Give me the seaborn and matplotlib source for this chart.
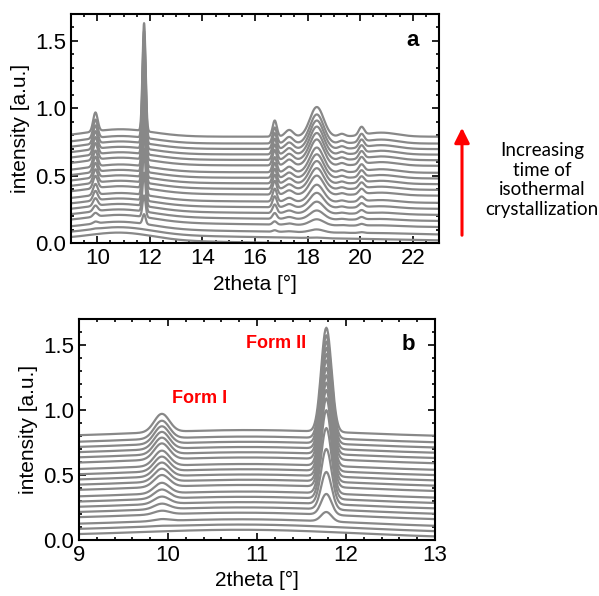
import numpy as np
import pandas as pd
import seaborn as sns
import matplotlib.pyplot as plt
from matplotlib.patches import FancyArrowPatch
from matplotlib.ticker import MultipleLocator

# waterfall of XRD patterns during isothermal crystallization
# values

# vertical offset of each pattern (bottom = earliest)
offsets = [0.03, 0.07, 0.11, 0.16, 0.20, 0.24, 0.28, 0.32, 0.37, 0.41,
           0.45, 0.49, 0.53, 0.58, 0.62, 0.66, 0.70, 0.74, 0.79]

# fraction of final peak height, fast growing peaks (form II)
growth_fast = [0.0, 0.0, 0.09, 0.20, 0.36, 0.53, 0.68, 0.80, 0.85, 0.88,
               0.90, 0.92, 0.94, 0.95, 0.96, 0.97, 0.98, 0.99, 1.0]
# slow growing peaks
growth_slow = [0.0, 0.02, 0.10, 0.20, 0.30, 0.40, 0.50, 0.58, 0.65, 0.71,
               0.76, 0.80, 0.84, 0.88, 0.91, 0.94, 0.96, 0.98, 1.0]

# peaks: position, width (sigma), final height, which growth
peak_pos = [9.93, 11.78, 16.75, 17.30, 18.35, 19.30, 20.05, 20.80]
peak_sig = [0.085, 0.058, 0.08, 0.15, 0.26, 0.12, 0.10, 0.60]
peak_hgt = [0.14, 0.80, 0.12, 0.05, 0.22, 0.02, 0.06, 0.03]
peak_kind = ["slow", "fast", "fast", "slow", "slow", "slow", "slow", "slow"]

# amorphous halo
halo_pos, halo_sig, halo_hgt = 10.9, 1.2, 0.055
tilt_end = 0.05

x = np.linspace(9, 23, 1401)
rows = []
for i, off in enumerate(offsets):
    y = off + halo_hgt * np.exp(-(x - halo_pos) ** 2 / (2 * halo_sig ** 2))
    y = y - tilt_end * (1 - growth_slow[i]) * (x - 9) / 14
    for p, s, h, k in zip(peak_pos, peak_sig, peak_hgt, peak_kind):
        g = growth_fast[i] if k == "fast" else growth_slow[i]
        y = y + g * h * np.exp(-(x - p) ** 2 / (2 * s ** 2))
    rows.append(pd.DataFrame({"theta": x, "intensity": y, "curve": i}))
df = pd.concat(rows)

sns.set_style("ticks")
plt.rcParams['font.family'] = ['Liberation Sans', 'DejaVu Sans']
plt.rcParams['text.color'] = 'black'
plt.rcParams['axes.labelcolor'] = 'black'
plt.rcParams['xtick.color'] = 'black'
plt.rcParams['ytick.color'] = 'black'
plt.rcParams['axes.edgecolor'] = 'black'

fig = plt.figure(figsize=(5.99, 5.96), dpi=100)
ax1 = fig.add_axes([0.1185, 0.592, 0.6145, 0.3845])
ax2 = fig.add_axes([0.132, 0.094, 0.594, 0.371])

for ax, sub in [(ax1, df), (ax2, df[df.theta <= 13])]:
    sns.lineplot(data=sub, x="theta", y="intensity", units="curve",
                 estimator=None, color="#888888", lw=1.6, ax=ax, legend=False)
    ax.set_ylim(0, 1.7)
    ax.yaxis.set_major_locator(MultipleLocator(0.5))
    ax.yaxis.set_minor_locator(MultipleLocator(0.1))
    ax.tick_params(which="both", direction="in", top=True, right=True,
                   labelsize=16, width=1.2)
    ax.tick_params(which="major", length=5)
    ax.tick_params(which="minor", length=2.5)
    for sp in ax.spines.values():
        sp.set_linewidth(1.5)
    ax.set_xlabel("2theta [°]", fontsize=15)
    ax.set_ylabel("intensity [a.u.]", fontsize=15)

ax1.set_xlim(9, 23)
ax1.xaxis.set_major_locator(MultipleLocator(2))
ax1.xaxis.set_minor_locator(MultipleLocator(0.5))
ax2.set_xlim(9, 13)
ax2.xaxis.set_major_locator(MultipleLocator(1))
ax2.xaxis.set_minor_locator(MultipleLocator(0.2))

ax1.text(22.0, 1.5, "a", fontsize=16, fontweight="bold", ha="center", va="center")
ax2.text(12.7, 1.5, "b", fontsize=16, fontweight="bold", ha="center", va="center")
ax2.text(10.36, 1.09, "Form I", color="red", fontsize=13, fontweight="bold",
         ha="center", va="center")
ax2.text(11.21, 1.51, "Form II", color="red", fontsize=13, fontweight="bold",
         ha="center", va="center")

# arrow and note on the right
fig.patches.append(FancyArrowPatch(
    (462 / 599, 1 - 238 / 596), (462 / 599, 1 - 125 / 596),
    transform=fig.transFigure, arrowstyle="-|>,head_length=6,head_width=3",
    color="red", lw=2.2, mutation_scale=1.5))
fig.text(542 / 599, 1 - 180 / 596,
         "Increasing\ntime of\nisothermal\ncrystallization",
         ha="center", va="center", fontsize=13.5, family="Lato", linespacing=1.2)

fig.savefig("out.png", dpi=100)
